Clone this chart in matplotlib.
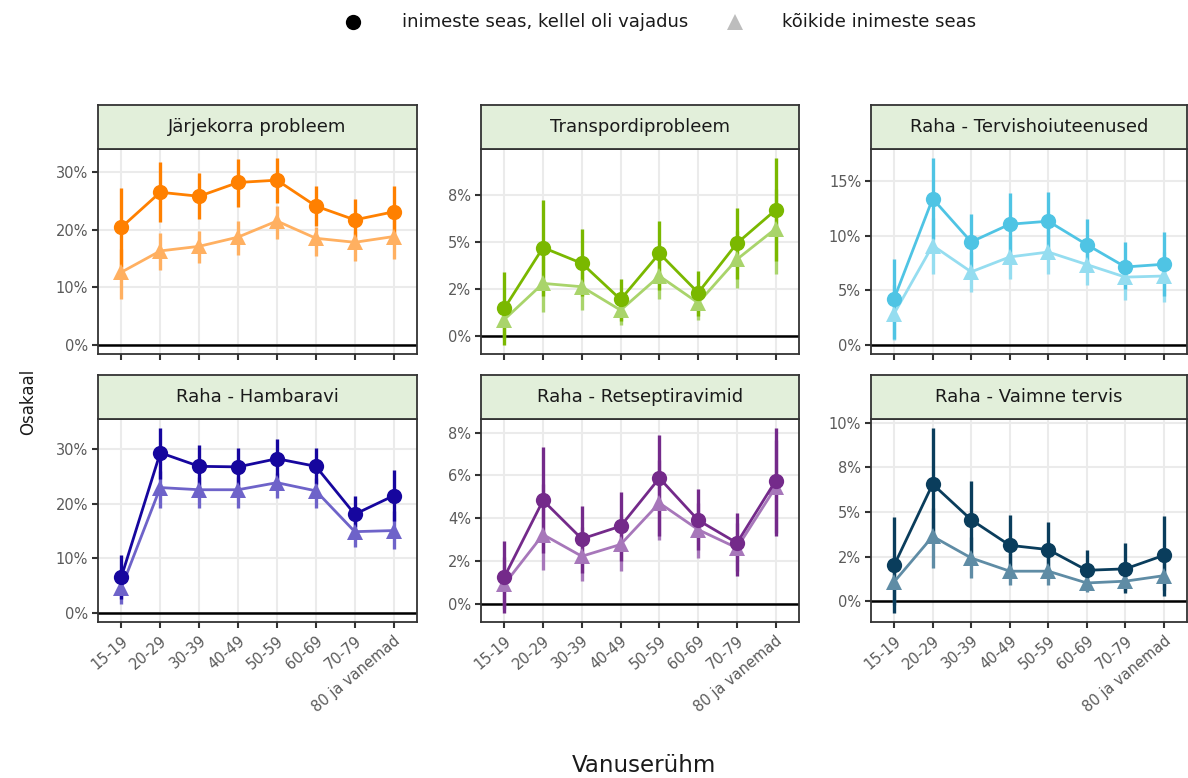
import matplotlib
matplotlib.use("Agg")
import matplotlib.pyplot as plt
from matplotlib.lines import Line2D
from matplotlib.ticker import FixedLocator, FuncFormatter

plt.rcParams['font.family'] = ['DejaVu Sans']

vanuserühmad = ['15-19', '20-29', '30-39', '40-49', '50-59', '60-69', '70-79', '80 ja vanemad']

# väärtused protsentides: keskmine, usaldusvahemiku alumine ja ülemine piir
jarjekord_vaj = [20.4, 26.5, 25.8, 28.2, 28.6, 24.1, 21.7, 23.1]
jarjekord_vaj_lo = [13.5, 21.4, 21.8, 23.9, 24.7, 20.7, 18.4, 18.9]
jarjekord_vaj_hi = [27.3, 31.7, 29.9, 32.2, 32.4, 27.6, 25.3, 27.6]
jarjekord_koik = [12.6, 16.3, 17.1, 18.7, 21.5, 18.5, 17.8, 18.8]
jarjekord_koik_lo = [8.0, 12.9, 14.2, 15.6, 18.4, 15.5, 14.6, 14.9]
jarjekord_koik_hi = [16.6, 19.5, 19.8, 21.5, 24.1, 20.4, 19.8, 21.8]

transport_vaj = [1.45, 4.70, 3.86, 1.93, 4.39, 2.29, 4.93, 6.71]
transport_vaj_lo = [-0.48, 2.1, 2.1, 0.77, 2.46, 1.04, 3.0, 3.98]
transport_vaj_hi = [3.39, 7.25, 5.71, 3.04, 6.12, 3.43, 6.80, 9.46]
transport_koik = [0.86, 2.79, 2.61, 1.36, 3.18, 1.75, 4.07, 5.71]
transport_koik_lo = [-0.2, 1.25, 1.39, 0.59, 1.93, 0.86, 2.55, 3.27]
transport_koik_hi = [1.9, 4.4, 3.9, 2.2, 4.5, 2.7, 5.59, 7.82]

tervis_vaj = [4.22, 13.4, 9.43, 11.05, 11.33, 9.18, 7.13, 7.38]
tervis_vaj_lo = [0.55, 9.7, 6.8, 8.2, 8.5, 7.0, 5.1, 4.5]
tervis_vaj_hi = [7.84, 17.1, 12.0, 13.9, 14.0, 11.5, 9.4, 10.3]
tervis_koik = [2.85, 9.1, 6.68, 8.05, 8.5, 7.35, 6.2, 6.3]
tervis_koik_lo = [0.4, 6.5, 4.8, 6.06, 6.5, 5.45, 4.1, 3.9]
tervis_koik_hi = [5.5, 11.6, 8.5, 10.0, 10.7, 9.3, 7.9, 8.5]

hamba_vaj = [6.57, 29.4, 26.9, 26.8, 28.3, 26.9, 18.1, 21.5]
hamba_vaj_lo = [2.6, 24.5, 23.0, 23.2, 24.5, 23.6, 15.7, 16.9]
hamba_vaj_hi = [10.6, 33.9, 30.8, 30.3, 32.0, 30.3, 21.5, 26.3]
hamba_koik = [4.56, 23.0, 22.6, 22.6, 23.9, 22.4, 14.9, 15.1]
hamba_koik_lo = [1.7, 19.3, 19.3, 19.3, 21.0, 19.3, 12.0, 11.7]
hamba_koik_hi = [8.0, 26.0, 25.0, 25.0, 25.7, 24.8, 17.5, 18.7]

retsept_vaj = [1.27, 4.84, 3.05, 3.64, 5.88, 3.92, 2.86, 5.76]
retsept_vaj_lo = [-0.39, 2.37, 1.47, 2.01, 3.17, 2.55, 1.31, 3.20]
retsept_vaj_hi = [2.94, 7.32, 4.56, 5.21, 7.89, 5.37, 4.26, 8.2]
retsept_koik = [0.93, 3.25, 2.24, 2.79, 4.72, 3.48, 2.63, 5.46]
retsept_koik_lo = [-0.2, 1.62, 1.08, 1.55, 3.0, 2.17, 1.55, 3.33]
retsept_koik_hi = [2.2, 5.6, 3.6, 4.2, 6.7, 4.7, 3.8, 7.66]

vaimne_vaj = [2.01, 6.56, 4.56, 3.13, 2.89, 1.73, 1.81, 2.57]
vaimne_vaj_lo = [-0.65, 3.54, 2.51, 1.4, 1.3, 0.65, 0.47, 0.28]
vaimne_vaj_hi = [4.71, 9.69, 6.74, 4.84, 4.41, 2.85, 3.26, 4.75]
vaimne_koik = [1.08, 3.63, 2.42, 1.68, 1.68, 1.02, 1.12, 1.43]
vaimne_koik_lo = [-0.2, 1.86, 1.3, 0.93, 0.93, 0.5, 0.55, 0.6]
vaimne_koik_hi = [2.5, 5.2, 3.6, 2.7, 2.6, 1.7, 1.9, 2.6]

paneelid = [
    ('Järjekorra probleem', '#FF8000', '#FFB061', [0, 10, 20, 30],
     (jarjekord_vaj, jarjekord_vaj_lo, jarjekord_vaj_hi),
     (jarjekord_koik, jarjekord_koik_lo, jarjekord_koik_hi)),
    ('Transpordiprobleem', '#7AB800', '#A9D46B', [0, 2.5, 5, 7.5],
     (transport_vaj, transport_vaj_lo, transport_vaj_hi),
     (transport_koik, transport_koik_lo, transport_koik_hi)),
    ('Raha - Tervishoiuteenused', '#4FC4E4', '#95DDF0', [0, 5, 10, 15],
     (tervis_vaj, tervis_vaj_lo, tervis_vaj_hi),
     (tervis_koik, tervis_koik_lo, tervis_koik_hi)),
    ('Raha - Hambaravi', '#16069E', '#6E63C9', [0, 10, 20, 30],
     (hamba_vaj, hamba_vaj_lo, hamba_vaj_hi),
     (hamba_koik, hamba_koik_lo, hamba_koik_hi)),
    ('Raha - Retseptiravimid', '#742A8A', '#A777BA', [0, 2, 4, 6, 8],
     (retsept_vaj, retsept_vaj_lo, retsept_vaj_hi),
     (retsept_koik, retsept_koik_lo, retsept_koik_hi)),
    ('Raha - Vaimne tervis', '#0A3D5C', '#5F8CA5', [0, 2.5, 5, 7.5, 10],
     (vaimne_vaj, vaimne_vaj_lo, vaimne_vaj_hi),
     (vaimne_koik, vaimne_koik_lo, vaimne_koik_hi)),
]

W, H = 1188, 778
fig = plt.figure(figsize=(W / 100, H / 100), dpi=100)

veerud = [(98, 319), (481, 318), (871, 316)]
read = [(149, 205), (419, 203)]
riba_h = 44
raam = '#333333'
tekst = '#5A5A5A'

x = list(range(len(vanuserühmad)))

for i, (pealkiri, tume, hele, tickid, vaj, koik) in enumerate(paneelid):
    rida, veerg = divmod(i, 3)
    left, width = veerud[veerg]
    top, height = read[rida]
    ax = fig.add_axes([left / W, 1 - (top + height) / H, width / W, height / H])

    for (kesk, lo, hi), col, marker, ms in [(koik, hele, '^', 12), (vaj, tume, 'o', 11)]:
        ax.vlines(x, lo, hi, color=col, lw=2.4, zorder=3)
        ax.plot(x, kesk, color=col, lw=2.0, marker=marker, ms=ms,
                markeredgewidth=0, zorder=4)

    ax.axhline(0, color='black', lw=1.8, zorder=2)

    # y-telje ulatus: andmed koos nulljoonega, 5% varuga
    lo_all = min(0, min(vaj[1]), min(koik[1]))
    hi_all = max(max(vaj[2]), max(koik[2]))
    pad = (hi_all - lo_all) * 0.05
    ax.set_ylim(lo_all - pad, hi_all + pad)
    ax.set_xlim(-0.6, len(x) - 0.4)

    ax.yaxis.set_major_locator(FixedLocator(tickid))
    ax.yaxis.set_major_formatter(FuncFormatter(lambda v, p: f"{round(v)}%"))
    ax.set_xticks(x)
    if rida == 1:
        ax.set_xticklabels(vanuserühmad, rotation=40, ha='right', va='top',
                           rotation_mode='anchor', fontsize=10.5, color=tekst)
    else:
        ax.tick_params(axis='x', length=0, labelbottom=False)

    ax.tick_params(axis='y', labelsize=10.5, labelcolor=tekst, color=raam,
                   length=4, width=1.5, pad=3)
    ax.tick_params(axis='x', color=raam, width=1.5, length=4, pad=4)
    ax.grid(True, color='#EBEBEB', lw=1.5, zorder=0)
    ax.set_axisbelow(True)
    for sp in ax.spines.values():
        sp.set_color(raam)
        sp.set_linewidth(1.3)

    # paneeli pealkirja riba
    sax = fig.add_axes([left / W, 1 - top / H, width / W, riba_h / H])
    sax.set_facecolor('#E2EFDA')
    sax.set_xticks([])
    sax.set_yticks([])
    for sp in sax.spines.values():
        sp.set_color(raam)
        sp.set_linewidth(1.3)
    sax.text(0.5, 0.5, pealkiri, ha='center', va='center', fontsize=13,
             color='#1A1A1A', transform=sax.transAxes)

fig.text(28 / W, 1 - 402 / H, 'Osakaal', rotation=90, ha='center', va='center',
         fontsize=12, color='#1A1A1A')
fig.text(644 / W, 1 - 766 / H, 'Vanuserühm', ha='center', va='center',
         fontsize=16.5, color='#1A1A1A')

# legend üleval
y_leg = 1 - 22 / H
fig.add_artist(Line2D([353 / W], [y_leg], transform=fig.transFigure, color='black',
                      marker='o', ls='none', ms=11, markeredgewidth=0))
fig.text(402 / W, y_leg, 'inimeste seas, kellel oli vajadus', ha='left', va='center',
         fontsize=13, color='#1A1A1A')
fig.add_artist(Line2D([735 / W], [y_leg], transform=fig.transFigure, color='#BDBDBD',
                      marker='^', ls='none', ms=12, markeredgewidth=0))
fig.text(782 / W, y_leg, 'kõikide inimeste seas', ha='left', va='center',
         fontsize=13, color='#1A1A1A')

fig.savefig('out.png', dpi=100)
